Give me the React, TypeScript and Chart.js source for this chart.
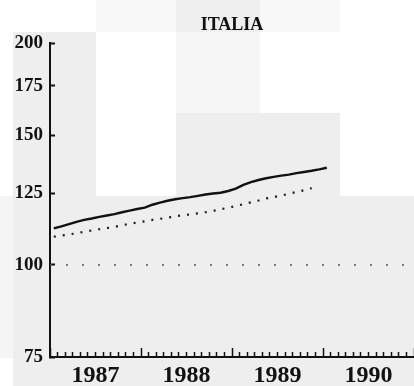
import React, { useEffect, useRef } from 'react';
import { Chart, registerables } from 'chart.js';

Chart.register(...registerables);

const TITLE = 'ITALIA';
const YEARS = [1987, 1988, 1989, 1990];
const Y_TICKS = [75, 100, 125, 150, 175, 200];
const REFERENCE_LEVEL = 100;

// monthly index, Jan 1987 .. Jan 1990
const SOLID = [
  112.1, 112.8, 113.6, 114.4, 115.1, 115.6, 116.2, 116.7, 117.2, 117.9, 118.5, 119.1,
  119.6, 120.7, 121.5, 122.2, 122.8, 123.2, 123.6, 124.1, 124.6, 125.0, 125.3, 126.0,
  126.9, 128.4, 129.5, 130.4, 131.1, 131.7, 132.2, 132.6, 133.2, 133.7, 134.2, 134.8,
  135.5,
];

// monthly index, Jan 1987 .. Nov 1989
const DOTTED = [
  109.2, 109.6, 110.0, 110.4, 110.9, 111.4, 111.8, 112.2, 112.6, 113.2, 113.7, 114.2,
  114.6, 115.1, 115.5, 115.9, 116.4, 116.8, 117.1, 117.5, 117.9, 118.4, 119.0, 119.6,
  120.2, 120.9, 121.6, 122.3, 123.1, 123.6, 124.2, 124.9, 125.6, 126.3, 127.1,
];

// scanned-paper background shading (styling only)
const BG_BLOCKS: [number, number, number, number, string][] = [
  [96, 0, 80, 32, '#f8f8f8'],
  [176, 0, 84, 32, '#efefef'],
  [260, 0, 80, 32, '#f8f8f8'],
  [13, 32, 83, 164, '#eeeeee'],
  [176, 32, 84, 81, '#f6f6f6'],
  [176, 113, 164, 83, '#eeeeee'],
  [0, 196, 13, 162, '#f5f5f5'],
  [13, 196, 401, 190, '#eeeeee'],
];

export default function App() {
  const ref = useRef<HTMLCanvasElement>(null);

  useEffect(() => {
    if (!ref.current) return;
    const start = YEARS[0];
    const end = YEARS[YEARS.length - 1] + 1;
    const toPoints = (arr: number[]) => arr.map((v, i) => ({ x: start + (i + 0.5) / 12, y: v }));

    const bgPlugin = {
      id: 'scanBackground',
      beforeDraw(chart: any) {
        const ctx = chart.ctx;
        ctx.save();
        ctx.fillStyle = '#ffffff';
        ctx.fillRect(0, 0, chart.width, chart.height);
        BG_BLOCKS.forEach(([x, y, w, h, c]) => {
          ctx.fillStyle = c;
          ctx.fillRect(x, y, w, h);
        });
        ctx.restore();
      },
    };

    const chart = new Chart(ref.current, {
      type: 'line',
      data: {
        datasets: [
          {
            label: 'base',
            data: [
              { x: start, y: REFERENCE_LEVEL },
              { x: end, y: REFERENCE_LEVEL },
            ],
            borderColor: '#555555',
            borderWidth: 1.6,
            borderDash: [2, 14],
            pointRadius: 0,
          },
          {
            label: 'dotted',
            data: toPoints(DOTTED),
            borderColor: '#1a1a1a',
            borderWidth: 2.2,
            borderDash: [2, 7],
            pointRadius: 0,
          },
          {
            label: 'solid',
            data: toPoints(SOLID),
            borderColor: '#111111',
            borderWidth: 2.4,
            pointRadius: 0,
          },
        ],
      },
      options: {
        responsive: false,
        animation: false,
        devicePixelRatio: 1,
        layout: { padding: 0 },
        plugins: {
          legend: { display: false },
          tooltip: { enabled: false },
          title: {
            display: true,
            text: TITLE,
            fullSize: false,
            color: '#111111',
            font: { family: 'Liberation Serif', size: 18, weight: 'bold' },
            padding: { top: 14.5, bottom: 7 },
          },
        },
        scales: {
          x: {
            type: 'linear',
            min: start,
            max: end,
            afterBuildTicks: (s: any) => {
              const t = [];
              for (let k = 0; k <= (end - start) * 12; k++) t.push({ value: start + k / 12 });
              s.ticks = t;
            },
            afterFit: (s: any) => {
              s.height = 29;
              s.paddingLeft = 0;
              s.paddingRight = 0;
            },
            ticks: {
              autoSkip: false,
              maxRotation: 0,
              minRotation: 0,
              padding: 13,
              color: '#111111',
              font: { family: 'Liberation Serif', size: 24, weight: 'bold' },
              callback: (_v: any, i: number) =>
                i % 12 === 6 && YEARS[Math.floor(i / 12)] !== undefined ? String(YEARS[Math.floor(i / 12)]) : '',
            },
            grid: {
              drawOnChartArea: false,
              drawTicks: true,
              tickLength: -9,
              tickColor: '#111111',
              tickWidth: 1.5,
              tickBorderDash: (ctx: any) => (ctx.index % 12 === 0 ? [] : [6, 100]),
            },
            border: { display: true, color: '#111111', width: 2 },
          },
          y: {
            type: 'logarithmic',
            min: 75,
            max: 200,
            afterBuildTicks: (s: any) => {
              s.ticks = Y_TICKS.map((v) => ({ value: v }));
            },
            afterFit: (s: any) => {
              s.width = 50;
            },
            ticks: {
              autoSkip: false,
              padding: 12,
              color: '#111111',
              font: { family: 'Liberation Serif', size: 19, weight: 'bold' },
              callback: (v: any) => String(v),
            },
            grid: {
              drawOnChartArea: false,
              drawTicks: true,
              tickLength: -5,
              tickColor: '#111111',
              tickWidth: 2,
            },
            border: { display: true, color: '#111111', width: 2 },
          },
        },
      },
      plugins: [bgPlugin],
    } as any);

    return () => chart.destroy();
  }, []);

  return (
    <div style={{ position: 'absolute', left: 0, top: 0, width: 414, height: 386, background: '#fff' }}>
      <canvas ref={ref} width={414} height={386} style={{ display: 'block', width: 414, height: 386 }} />
    </div>
  );
}
